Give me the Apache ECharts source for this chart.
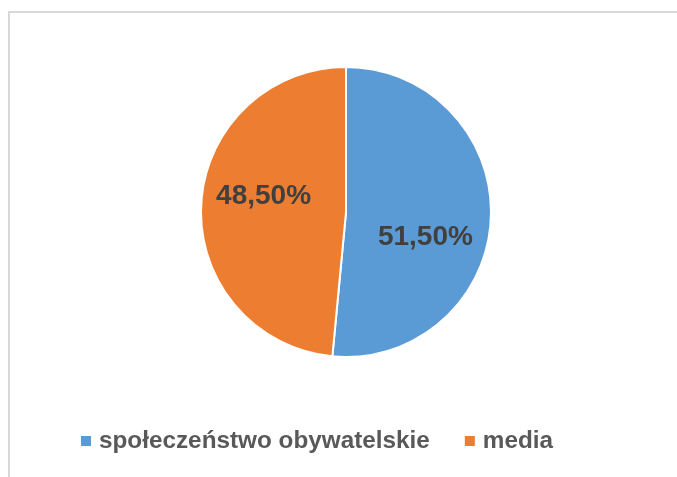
<!DOCTYPE html>
<html>
<head>
<meta charset="utf-8">
<script src="https://cdn.jsdelivr.net/npm/echarts@6/dist/echarts.min.js"></script>
<style>
  html, body { margin: 0; padding: 0; background: #fff; }
</style>
</head>
<body>
<div id="main" style="width:677px;height:477px;"></div>
<script>
// dane wykresu
var categories = ["społeczeństwo obywatelskie", "media"];
var values = [51.5, 48.5];
var colors = ["#5b9bd5", "#ed7d31"];
// przesunięcia etykiet (jak w Excelu "best fit")
var labelOffsets = [[4, 22], [-7, -12]];

var pieData = categories.map(function (name, i) {
  return {
    name: name,
    value: values[i],
    itemStyle: { color: colors[i] },
    label: { offset: labelOffsets[i] }
  };
});

var chartOption = {
  animation: false,
  backgroundColor: "#ffffff",
  graphic: [
    {
      type: "rect",
      shape: { x: 9, y: 12, width: 700, height: 500 },
      style: { fill: "none", stroke: "#d9d9d9", lineWidth: 2 },
      silent: true
    }
  ],
  legend: {
    data: categories,
    left: 74,
    top: 424,
    icon: "rect",
    itemWidth: 12,
    itemHeight: 12,
    itemGap: 33,
    textStyle: {
      fontFamily: "Liberation Sans",
      fontWeight: "bold",
      fontSize: 24.3,
      color: "#595959",
      padding: [0, 0, 0, 2]
    }
  },
  series: [
    {
      type: "pie",
      center: [346, 212],
      radius: 145,
      startAngle: 90,
      clockwise: true,
      itemStyle: { borderColor: "#ffffff", borderWidth: 2 },
      label: {
        show: true,
        position: "inside",
        formatter: function (p) {
          return p.value.toFixed(2).replace(".", ",") + "%";
        },
        fontFamily: "Liberation Sans",
        fontWeight: "bold",
        fontSize: 28,
        color: "#404040"
      },
      labelLine: { show: false },
      emphasis: { disabled: true },
      data: pieData
    }
  ]
};

var myChart = echarts.init(document.getElementById("main"));
myChart.setOption(chartOption);
</script>
</body>
</html>
